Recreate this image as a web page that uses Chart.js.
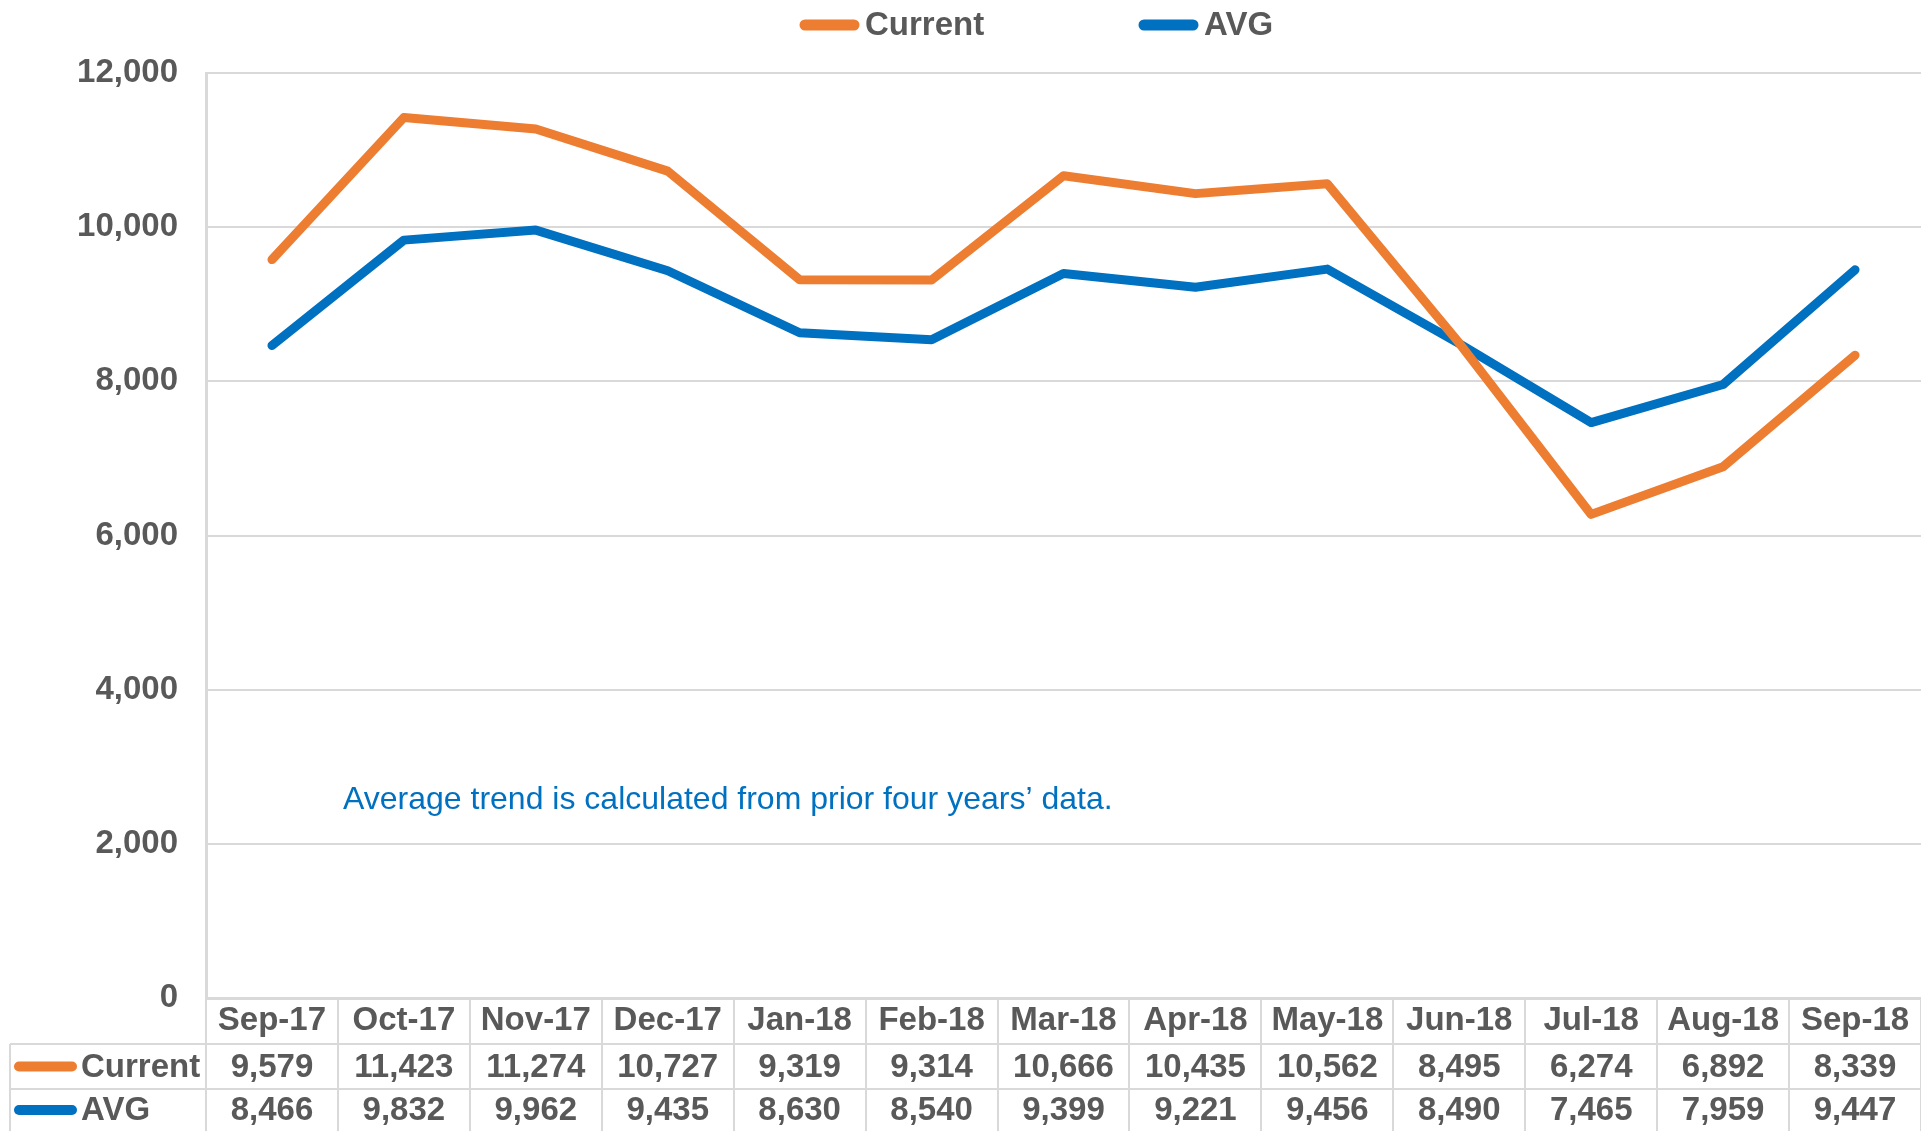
<!DOCTYPE html>
<html>
<head>
<meta charset="utf-8">
<script src="https://cdn.jsdelivr.net/npm/chart.js@4.4.1/dist/chart.umd.min.js"></script>
<style>
html, body { margin: 0; padding: 0; background: #fff; overflow: hidden; }
#wrap { width: 1921px; height: 1131px; }
</style>
</head>
<body>
<div id="wrap"><canvas id="chart" width="1921" height="1131"></canvas></div>
<script>
// chart data
const months = ['Sep-17', 'Oct-17', 'Nov-17', 'Dec-17', 'Jan-18', 'Feb-18', 'Mar-18',
    'Apr-18', 'May-18', 'Jun-18', 'Jul-18', 'Aug-18', 'Sep-18'];
const currentValues = [9579, 11423, 11274, 10727, 9319, 9314, 10666, 10435, 10562, 8495, 6274, 6892, 8339];
const avgValues = [8466, 9832, 9962, 9435, 8630, 8540, 9399, 9221, 9456, 8490, 7465, 7959, 9447];
const yTickValues = [0, 2000, 4000, 6000, 8000, 10000, 12000];
const noteText = 'Average trend is calculated from prior four years\u2019 data.';

const ORANGE = '#ED7D31';
const BLUE = '#0070C0';
const TEXT = '#595959';
const GRID = '#D9D9D9';
const FONT = '"Liberation Sans", Arial, sans-serif';
const LABEL_SIZE = 33;

const fmt = v => v.toLocaleString('en-US');

// left edge of the data table rows
const TABLE_LEFT = 10;

/**
 * Draws the top legend, the note and the data table
 */
const extrasPlugin = {
    id: 'extras',
    afterDraw(chart) {
        const ctx = chart.ctx;
        const area = chart.chartArea;
        const xs = chart.scales.x;
        const n = chart.data.labels.length;
        const step = (area.right - area.left) / n;
        const headTop = area.bottom;
        const row1 = headTop + 46;
        const row2 = row1 + 45;
        const bottom = chart.height;

        ctx.save();

        // top legend
        ctx.font = 'bold ' + LABEL_SIZE + 'px ' + FONT;
        ctx.textBaseline = 'middle';
        ctx.textAlign = 'left';
        const legendX = [800, 1139];
        chart.data.datasets.forEach((ds, i) => {
            ctx.strokeStyle = ds.borderColor;
            ctx.lineWidth = 11;
            ctx.lineCap = 'round';
            ctx.beginPath();
            ctx.moveTo(legendX[i] + 5, 25);
            ctx.lineTo(legendX[i] + 54, 25);
            ctx.stroke();
            ctx.fillStyle = TEXT;
            ctx.fillText(ds.label, legendX[i] + 65, 26);
        });

        // note
        ctx.font = '32px ' + FONT;
        ctx.fillStyle = BLUE;
        ctx.fillText(noteText, area.left + 137, 800);

        // table grid
        ctx.strokeStyle = GRID;
        ctx.lineWidth = 2;
        ctx.lineCap = 'butt';
        ctx.beginPath();
        for (let i = 0; i <= n; i++) {
            const bx = Math.round(area.left + i * step);
            ctx.moveTo(bx, headTop);
            ctx.lineTo(bx, bottom);
        }
        ctx.moveTo(TABLE_LEFT, row1);
        ctx.lineTo(area.right, row1);
        ctx.moveTo(TABLE_LEFT, row2);
        ctx.lineTo(area.right, row2);
        ctx.moveTo(TABLE_LEFT, row1);
        ctx.lineTo(TABLE_LEFT, bottom);
        ctx.stroke();

        // table rows
        const rowMid = [(row1 + row2) / 2, (row2 + bottom) / 2];
        chart.data.datasets.forEach((ds, r) => {
            const y = rowMid[r];
            ctx.strokeStyle = ds.borderColor;
            ctx.lineWidth = 10;
            ctx.lineCap = 'round';
            ctx.beginPath();
            ctx.moveTo(19, y);
            ctx.lineTo(72, y);
            ctx.stroke();
            ctx.font = 'bold ' + LABEL_SIZE + 'px ' + FONT;
            ctx.fillStyle = TEXT;
            ctx.textAlign = 'left';
            ctx.fillText(ds.label, 81, y + 1);
            ctx.textAlign = 'center';
            ds.data.forEach((v, i) => {
                ctx.fillText(fmt(v), xs.getPixelForTick(i), y + 1);
            });
        });

        ctx.restore();
    }
};

const chart = new Chart(document.getElementById('chart').getContext('2d'), {
    type: 'line',
    data: {
        labels: months,
        datasets: [
            {
                label: 'Current',
                data: currentValues,
                borderColor: ORANGE,
                backgroundColor: ORANGE,
                borderWidth: 9,
                borderCapStyle: 'round',
                borderJoinStyle: 'round',
                pointRadius: 0,
                tension: 0
            },
            {
                label: 'AVG',
                data: avgValues,
                borderColor: BLUE,
                backgroundColor: BLUE,
                borderWidth: 9,
                borderCapStyle: 'round',
                borderJoinStyle: 'round',
                pointRadius: 0,
                tension: 0
            }
        ]
    },
    options: {
        responsive: false,
        animation: false,
        devicePixelRatio: 1,
        layout: { padding: { top: 73, left: 0, right: 0, bottom: 0 } },
        plugins: {
            legend: { display: false },
            tooltip: { enabled: false }
        },
        scales: {
            x: {
                offset: true,
                grid: { display: false, drawTicks: false },
                border: { display: true, color: GRID, width: 3 },
                ticks: {
                    autoSkip: false,
                    maxRotation: 0,
                    padding: 3,
                    color: TEXT,
                    font: { family: FONT, size: LABEL_SIZE, weight: 'bold' }
                },
                afterFit(scale) { scale.height = 133; }
            },
            y: {
                min: 0,
                max: 12000,
                afterBuildTicks(scale) {
                    scale.ticks = yTickValues.map(v => ({ value: v }));
                },
                grid: { color: GRID, lineWidth: 2, drawTicks: false },
                border: { display: true, color: GRID, width: 3 },
                ticks: {
                    padding: 28,
                    color: TEXT,
                    font: { family: FONT, size: LABEL_SIZE, weight: 'bold' },
                    callback: v => fmt(v)
                },
                afterFit(scale) { scale.width = 206; }
            }
        }
    },
    plugins: [extrasPlugin]
});
</script>
</body>
</html>
